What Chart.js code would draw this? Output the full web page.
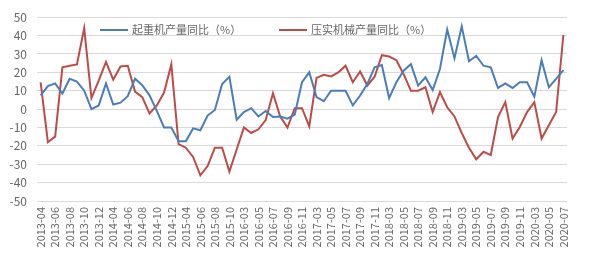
<!DOCTYPE html>
<html>
<head>
<meta charset="utf-8">
<script src="https://cdn.jsdelivr.net/npm/chart.js@4"></script>
<style>
  body { margin: 0; background: #fff; }
</style>
</head>
<body>
<canvas id="chart" width="600" height="261"></canvas>
<script>
// Months (Jan/Feb not reported)
const months = [
    '2013-04','2013-05','2013-06','2013-07','2013-08','2013-09','2013-10','2013-11','2013-12',
    '2014-03','2014-04','2014-05','2014-06','2014-07','2014-08','2014-09','2014-10','2014-11','2014-12',
    '2015-03','2015-04','2015-05','2015-06','2015-07','2015-08','2015-09','2015-10','2015-11',
    '2016-03','2016-04','2016-05','2016-06','2016-07','2016-08','2016-09','2016-10','2016-11','2016-12',
    '2017-03','2017-04','2017-05','2017-06','2017-07','2017-08','2017-09','2017-10','2017-11','2017-12',
    '2018-03','2018-04','2018-05','2018-06','2018-07','2018-08','2018-09','2018-10','2018-11','2018-12',
    '2019-03','2019-04','2019-05','2019-06','2019-07','2019-08','2019-09','2019-10','2019-11','2019-12',
    '2020-03','2020-04','2020-05','2020-06','2020-07'
];

// 起重机产量同比
const craneYoY = [
    7.5, 12.5, 14, 8.5, 16.5, 15, 10, 0, 2,
    14, 2.5, 3.5, 7, 16.5, 13, 7.5, -1, -10, -10,
    -17.5, -17.5, -10.5, -11.5, -3.5, -0.5, 13.7, 17.6, -5.8,
    -1.6, 0.5, -4, -1, -4.3, -4, -5.2, -3, 14.6, 20,
    6.5, 4.3, 10, 10, 10, 2, 7.4, 13.7, 22.7, 24,
    6, 14.6, 20.9, 24.5, 12.8, 17.3, 10.4, 21.8, 43.3, 27.7,
    45, 26, 29, 23.6, 22.7, 11.5, 14, 11.5, 14.6, 14.6,
    6.8, 26.6, 11.9, 16.4, 21.2
];

// 压实机械产量同比
const compactorYoY = [
    14.5, -18, -15, 22.7, 23.6, 24.3, 44, 6, 15.5,
    25.7, 16, 23.2, 23.6, 9.5, 6.5, -2.4, 2, 9, 24.3,
    -19, -21, -26, -36, -31, -21, -21, -34, -22,
    -10, -13, -11, -6, 8.6, -4, -10, 0.5, 0.5, -9.4,
    17, 18.7, 17.8, 20, 23.6, 14.6, 20.5, 12.8, 17.6, 29.3,
    28.6, 26.6, 19, 10, 10, 11.9, -1.6, 9.2, 1, -4,
    -13, -21, -27.3, -23.2, -25, -4.3, 3.8, -16, -9.7, -1.6,
    3.8, -16, -8.8, -1.6, 40.3
];

const seriesNames = ['起重机产量同比（%）', '压实机械产量同比（%）'];
const blue = '#4a7ebb';
const red = '#be4b48';
const textColor = '#666';
const fontFamily = "'Noto Sans CJK SC', 'Noto Sans', sans-serif";

// Legend sits inside the plot, drawn by hand
const insideLegend = {
    id: 'insideLegend',
    afterDraw(chart) {
        const ctx = chart.ctx;
        const y = 30;
        const items = [
            { x: 100, color: blue, text: seriesNames[0] },
            { x: 279, color: red, text: seriesNames[1] }
        ];
        ctx.save();
        ctx.font = '11px ' + fontFamily;
        ctx.textBaseline = 'middle';
        ctx.textAlign = 'left';
        items.forEach(item => {
            ctx.strokeStyle = item.color;
            ctx.lineWidth = 2;
            ctx.beginPath();
            ctx.moveTo(item.x, y);
            ctx.lineTo(item.x + 28, y);
            ctx.stroke();
            ctx.fillStyle = textColor;
            ctx.fillText(item.text, item.x + 32, y);
        });
        ctx.restore();
    }
};

const ctx = document.getElementById('chart').getContext('2d');
new Chart(ctx, {
    type: 'line',
    data: {
        labels: months,
        datasets: [{
            label: seriesNames[0],
            data: craneYoY,
            borderColor: blue,
            backgroundColor: blue,
            borderWidth: 2,
            pointRadius: 0,
            tension: 0
        }, {
            label: seriesNames[1],
            data: compactorYoY,
            borderColor: red,
            backgroundColor: red,
            borderWidth: 2,
            pointRadius: 0,
            tension: 0
        }]
    },
    options: {
        responsive: false,
        animation: false,
        layout: {
            padding: { top: 15, right: 33, bottom: 0, left: 0 }
        },
        plugins: {
            legend: { display: false },
            tooltip: { enabled: false }
        },
        scales: {
            x: {
                offset: true,
                grid: { display: false, drawTicks: false },
                border: { display: false },
                afterFit: (scale) => { scale.height = 60; },
                ticks: {
                    autoSkip: false,
                    minRotation: 90,
                    maxRotation: 90,
                    padding: 6,
                    color: textColor,
                    font: { size: 11, family: fontFamily },
                    callback: function(value, index) {
                        return index % 2 === 0 ? this.getLabelForValue(value) : '';
                    }
                }
            },
            y: {
                min: -50,
                max: 50,
                afterFit: (scale) => { scale.width = 37; },
                grid: { color: '#d9d9d9', lineWidth: 1, drawTicks: false },
                border: { display: false },
                ticks: {
                    stepSize: 10,
                    padding: 10,
                    color: textColor,
                    font: { size: 12, family: fontFamily }
                }
            }
        }
    },
    plugins: [insideLegend]
});
</script>
</body>
</html>
